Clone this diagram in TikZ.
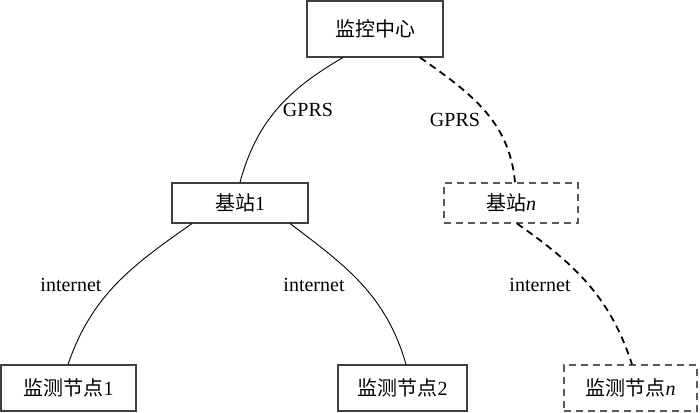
\documentclass[tikz,border=0pt]{standalone}
\usepackage{fontspec}
\setmainfont{Liberation Serif}
\newfontfamily\cjk{Noto Sans CJK SC}
\usetikzlibrary{calc}
\begin{document}
\begin{tikzpicture}[x=1pt,y=-1pt,
  every node/.style={font=\fontsize{20}{22}\selectfont, inner sep=0pt},
  solidbox/.style={draw=black!75, line width=1.1pt},
  dashbox/.style={draw=black!65, line width=1.1pt, dash pattern=on 7pt off 5pt},
  solidlink/.style={draw=black, line width=0.9pt},
  dashlink/.style={draw=black, line width=1.8pt, dash pattern=on 7pt off 5pt},
  lbl/.style={}]
\useasboundingbox (0,0) rectangle (700,412);
\node[solidbox, minimum width=136pt, minimum height=56pt] (top) at (375,29) {{\cjk 监控中心}};
\node[solidbox, minimum width=136pt, minimum height=40pt] (bs1) at (240,203) {{\cjk 基站}1};
\node[dashbox, minimum width=134pt, minimum height=40pt] (bsn) at (511,203) {{\cjk 基站}\textit{n}};
\node[solidbox, minimum width=135pt, minimum height=46pt] (m1) at (68.5,388) {{\cjk 监测节点}1};
\node[solidbox, minimum width=129pt, minimum height=46pt] (m2) at (402.5,388) {{\cjk 监测节点}2};
\node[dashbox, minimum width=133pt, minimum height=46pt] (mn) at (630.5,388) {{\cjk 监测节点}\textit{n}};
\draw[solidlink] ($(top.south)+(-32,0)$) to[out=210,in=75] ($(bs1.north)+(0,0)$);
\draw[dashlink] ($(top.south)+(45,0)$) to[out=-35,in=95] ($(bsn.north)+(4,0)$);
\draw[solidlink] ($(bs1.south)+(-48,0)$) to[out=215,in=71] ($(m1.north)+(-0.5,0)$);
\draw[solidlink] ($(bs1.south)+(50,0)$) to[out=-37,in=106] ($(m2.north)+(3.5,0)$);
\draw[dashlink] ($(bsn.south)+(6,0)$) to[out=-35,in=108] ($(mn.north)+(1.5,0)$);
\node[lbl] (l1) at (308,110) {GPRS};
\node[lbl] (l2) at (455,120) {GPRS};
\node[lbl] (l3) at (71,285) {internet};
\node[lbl] (l4) at (314,285) {internet};
\node[lbl] (l5) at (540,285) {internet};
\end{tikzpicture}
\end{document}
